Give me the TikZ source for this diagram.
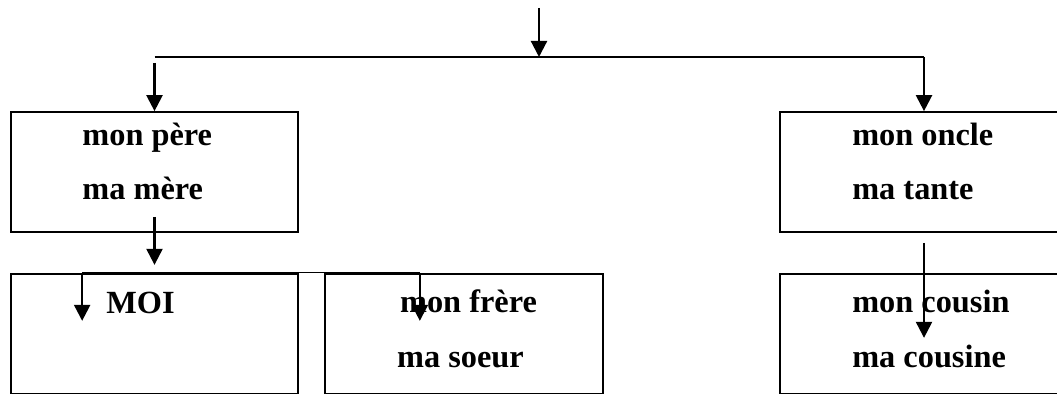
\documentclass[tikz,border=0pt]{standalone}
\usepackage{fontspec}
\setmainfont{Liberation Serif}
\usetikzlibrary{arrows.meta, positioning, calc}

\begin{document}
\begin{tikzpicture}[
    node distance=1cm,
    box/.style={rectangle, draw=black, line width=1.2pt, minimum height=3cm, inner sep=0pt},
    txt/.style={anchor=base west, inner sep=0pt, font=\fontsize{23}{27}\selectfont\bfseries},
    arrow/.style={line width=1.6pt, -{Triangle[width=0.4cm, length=0.4cm]}},
    link/.style={line width=1.2pt}
]
\useasboundingbox (0,0) rectangle (26.425,9.85);
\clip (0,0) rectangle (26.425,9.85);

% Parents generation
\node[box, minimum width=7.175cm] (parents) at (3.8625,5.55) {};
\node[box, minimum width=9cm, anchor=west] (oncles) at (19.475,5.55) {};

% Children generation
\node[box, minimum width=7.175cm, below=of parents] (moi) {};
\node[box, minimum width=6.95cm, right=0.625cm of moi] (fratrie) {};
\node[box, minimum width=9cm, below=of oncles] (cousins) {};

% Labels
\node[txt] (lpere) at ([shift={(1.8,-0.85)}]parents.north west) {mon père};
\node[txt] (lmere) at ([shift={(1.8,-2.2)}]parents.north west) {ma mère};
\node[txt] (loncle) at ([shift={(1.825,-0.85)}]oncles.north west) {mon oncle};
\node[txt] (ltante) at ([shift={(1.825,-2.2)}]oncles.north west) {ma tante};
\node[txt] (lmoi) at ([shift={(2.4,-1.025)}]moi.north west) {MOI};
\node[txt] (lfrere) at ([shift={(1.9,-1.0)}]fratrie.north west) {mon frère};
\node[txt] (lsoeur) at ([shift={(1.825,-2.375)}]fratrie.north west) {ma soeur};
\node[txt] (lcousin) at ([shift={(1.825,-1.0)}]cousins.north west) {mon cousin};
\node[txt] (lcousine) at ([shift={(1.825,-2.375)}]cousins.north west) {ma cousine};

% Drop points on the right boxes
\coordinate (onclesIn) at ([xshift=3.625cm]oncles.north west);
\coordinate (onclesOut) at ([xshift=3.625cm, yshift=-0.25cm]oncles.south west);
\coordinate (cousinsIn) at ([xshift=3.625cm, yshift=-1.625cm]cousins.north west);

% Top split
\coordinate (entree) at (13.475,9.65);
\coordinate (split) at (13.475,8.425);
\coordinate (gauche) at (parents.north |- split);
\coordinate (droite) at (onclesIn |- split);
\draw[arrow] (entree) -- (split);
\draw[link] (gauche) -- (droite);
\draw[arrow] (droite) -- (onclesIn);
\draw[arrow] ([yshift=-0.15cm]gauche) -- (parents.north);

% Down to the children
\draw[arrow] ([yshift=0.4cm]parents.south) -- ([yshift=0.2cm]moi.north);
\coordinate (a) at ([xshift=1.8cm]moi.north west);
\coordinate (b) at ([xshift=2.4cm]fratrie.north west);
\draw[link, line width=0.6pt] (a) -- (b);
\draw[arrow] (a) -- ([yshift=-1.2cm]a);
\draw[arrow] (b) -- ([yshift=-1.2cm]b);
\draw[arrow] (onclesOut) -- (cousinsIn);

\end{tikzpicture}
\end{document}
